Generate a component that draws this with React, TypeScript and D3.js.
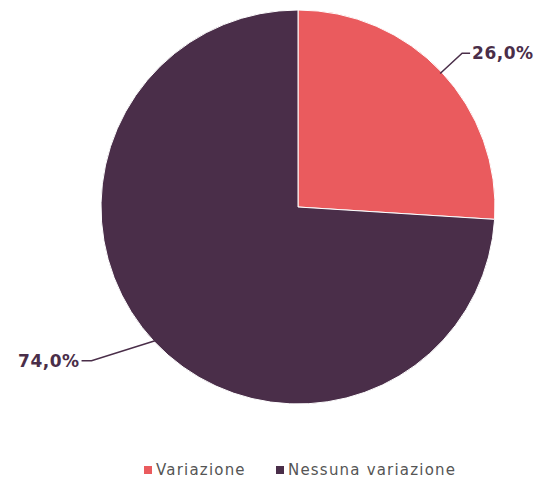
import * as d3 from 'd3';

const categories = ['Variazione', 'Nessuna variazione'];
const values = [26.0, 74.0];
const colors = ['#EA5B5E', '#4A2E49'];

export default function App() {
  const width = 539;
  const height = 482;
  const cx = 298;
  const cy = 207;
  const r = 197;

  const data = categories.map((c, i) => ({ name: c, value: values[i], color: colors[i] }));
  const pie = d3.pie<any>().sort(null).value((d) => d.value).startAngle(0).endAngle(2 * Math.PI);
  const arcs = pie(data);
  const arc = d3.arc<any>().innerRadius(0).outerRadius(r);

  const fmt = (v: number) => v.toFixed(1).replace('.', ',') + '%';

  return (
    <svg width={width} height={height} style={{ position: 'absolute', left: 0, top: 0 }}>
      <g transform={`translate(${cx},${cy})`}>
        {arcs.map((a, i) => (
          <path key={i} d={arc(a) as string} fill={a.data.color} stroke="#fff" strokeWidth={1} />
        ))}
        {arcs.map((a, i) => {
          const mid = (a.startAngle + a.endAngle) / 2;
          const sx = Math.sin(mid);
          const sy = -Math.cos(mid);
          const right = sx > 0;
          const p0 = [r * sx * 0.99, r * sy * 0.99];
          const ly = 1.14 * r * sy;
          const ex = right ? r * 0.833 : -r * 1.048;
          const tx = right ? ex + 8 : ex - 10;
          return (
            <g key={'l' + i}>
              <polyline
                points={`${p0[0]},${p0[1]} ${ex},${ly} ${tx},${ly}`}
                fill="none"
                stroke="#4A2E49"
                strokeWidth={1.5}
              />
              <text
                x={right ? tx + 2 : tx - 2}
                y={ly}
                dy="0.35em"
                textAnchor={right ? 'start' : 'end'}
                fontFamily="DejaVu Sans, sans-serif"
                fontWeight="bold"
                fontSize={17}
                letterSpacing={0.5}
                fill="#4A2E49"
              >
                {fmt(a.data.value)}
              </text>
            </g>
          );
        })}
      </g>
      <g transform="translate(144,470)">
        {data.map((d, i) => {
          const x = i === 0 ? 0 : 132;
          return (
            <g key={i} transform={`translate(${x},0)`}>
              <rect x={0} y={-4} width={8} height={8} fill={d.color} />
              <text
                x={12}
                y={0}
                dy="0.35em"
                fontFamily="DejaVu Sans, sans-serif"
                fontSize={15}
                letterSpacing={1.2}
                fill="#555"
              >
                {d.name}
              </text>
            </g>
          );
        })}
      </g>
    </svg>
  );
}
